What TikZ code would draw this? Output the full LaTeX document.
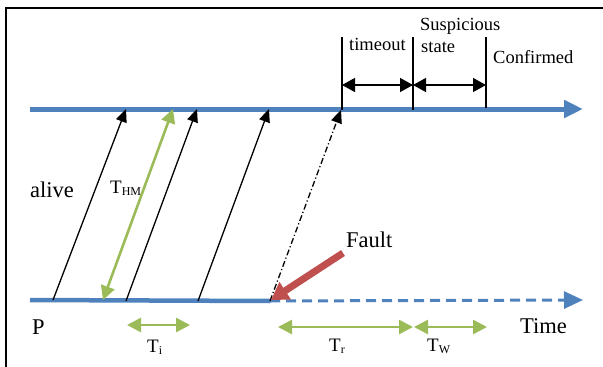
\documentclass[tikz,border=0pt]{standalone}
\usepackage{fontspec}
\setmainfont{Liberation Serif}
\usetikzlibrary{arrows.meta}
\definecolor{tblue}{HTML}{4F81BD}
\definecolor{tgreen}{HTML}{9BBB59}
\definecolor{tred}{HTML}{C0504D}
\tikzset{
  timeline/.style={tblue, line width=5pt, -{Triangle[length=19pt,width=17pt]}},
  msg/.style={black, line width=1.3pt, -{Triangle[length=13pt,width=11pt]}},
  span/.style={black, line width=1.3pt, {Triangle[length=13pt,width=14pt]}-{Triangle[length=13pt,width=14pt]}},
  gspan/.style={tgreen, line width=2.6pt, {Triangle[length=14pt,width=14pt]}-{Triangle[length=14pt,width=14pt]}},
  marker/.style={black, line width=1.5pt},
  lbl/.style={inner sep=0pt, anchor=base west, font=\fontsize{22.5}{24}\selectfont},
  slbl/.style={inner sep=0pt, anchor=base west, font=\fontsize{18.5}{20}\selectfont},
  tlbl/.style={inner sep=0pt, anchor=base west, font=\fontsize{19}{20}\selectfont},
}
\newcommand{\sub}[1]{\raisebox{-2pt}{\fontsize{12}{12}\selectfont #1}}
\begin{document}
\begin{tikzpicture}[x=1pt,y=-1pt]
\useasboundingbox (0,0) rectangle (603,367);
% frame (top and left only)
\draw[line width=1.6pt] (6,367) -- (6,8) -- (603,8);
% coordinates
\coordinate (topL) at (30,109);
\coordinate (topR) at (583,109);
\coordinate (botL) at (30,300);
\coordinate (fault) at (270,301);
\coordinate (botR) at (583,300);
\coordinate (s1) at (53,300);  \coordinate (e1) at (126,109);
\coordinate (s2) at (126,301); \coordinate (e2) at (197,109);
\coordinate (s3) at (198,301); \coordinate (e3) at (269,109);
\coordinate (e4) at (341,110);
\coordinate (hmA) at (103,300); \coordinate (hmB) at (173,109);
\coordinate (v1t) at (342,37); \coordinate (v1b) at (342,110);
\coordinate (v2t) at (413,37); \coordinate (v2b) at (413,110);
\coordinate (v3t) at (486,37); \coordinate (v3b) at (486,108);
\coordinate (a1) at (342,85); \coordinate (a2) at (413,85); \coordinate (a3) at (486,85);
\coordinate (ti1) at (127,325); \coordinate (ti2) at (190,325);
\coordinate (tr1) at (278,327); \coordinate (tr2) at (413,327);
\coordinate (tw1) at (414,327); \coordinate (tw2) at (487,327);
\coordinate (redS) at (343,253); \coordinate (redE) at (271,300);
% timelines
\draw[timeline] (topL) -- (topR);
\draw[tblue, line width=4.5pt] (botL) -- (fault);
\draw[timeline, line width=3pt, dash pattern=on 10pt off 6pt] (fault) -- (botR);
% heartbeat messages
\draw[msg] (s1) -- (e1);
\draw[msg] (s2) -- (e2);
\draw[msg] (s3) -- (e3);
\draw[msg, dash pattern=on 6pt off 2.5pt on 1.2pt off 2.5pt] (fault) -- (e4);
% markers
\draw[marker] (v1t) -- (v1b);
\draw[marker] (v2t) -- (v2b);
\draw[marker] (v3t) -- (v3b);
\draw[span] (a1) -- (a2);
\draw[span] (a2) -- (a3);
% green spans
\draw[gspan] (hmA) -- (hmB);
\draw[gspan] (ti1) -- (ti2);
\draw[gspan] (tr1) -- (tr2);
\draw[gspan] (tw1) -- (tw2);
% fault arrow
\draw[tred, line width=7pt, -{Triangle[length=17pt,width=20pt]}] (redS) -- (redE);
% labels
\node[lbl] (alive) at (30,197) {alive};
\node[lbl] (p) at (32,334) {P};
\node[lbl] (time) at (520,333) {Time};
\node[lbl] (faultlbl) at (346,247) {Fault};
\node[slbl] (timeout) at (349,50) {timeout};
\node[slbl] (susp) at (420,30) {Suspicious};
\node[slbl] (state) at (421,52) {state};
\node[slbl] (conf) at (493,63) {Confirmed};
\node[tlbl] (thm) at (110,193) {T\sub{HM}};
\node[tlbl] (tilbl) at (147,352) {T\sub{i}};
\node[tlbl] (trlbl) at (329,351) {T\sub{r}};
\node[tlbl] (twlbl) at (427,351) {T\sub{W}};
\end{tikzpicture}
\end{document}
